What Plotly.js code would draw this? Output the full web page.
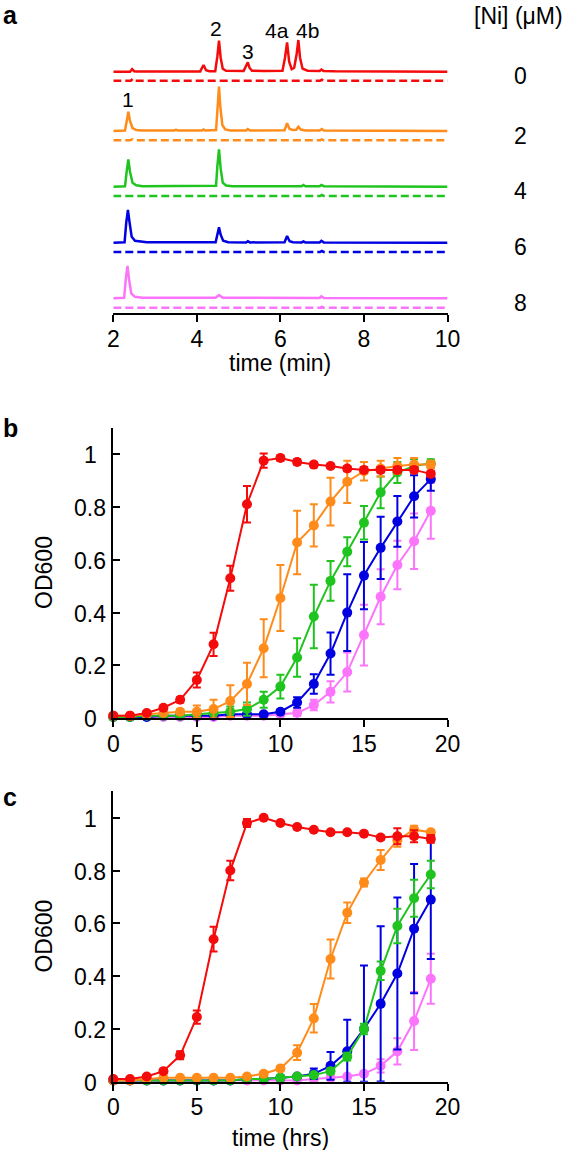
<!DOCTYPE html>
<html>
<head>
<meta charset="utf-8">
<script src="https://cdn.plot.ly/plotly-3.0.1.min.js"></script>
<style>html,body{margin:0;padding:0;background:#fff;}#chart{width:566px;height:1150px;}</style>
</head>
<body>
<div id="chart"></div>
<script>
// ---------------- DATA ----------------
// Panel a: HPLC chromatograms (time in min, signal in arbitrary units)
const concLabels = ['0', '2', '4', '6', '8'];          // [Ni] (µM)
const peakNames = ['1', '2', '3', '4a', '4b'];
const peakTimes = [2.34, 4.46, 5.22, 5.93, 6.65];     // label positions (min)

const ni0_t   = [2.00, 2.40, 2.45, 2.50, 2.55, 4.08, 4.16, 4.22, 4.30, 4.44, 4.49, 4.53, 4.57, 4.62, 4.70, 5.12, 5.18, 5.22, 5.26, 5.32, 5.60, 6.05, 6.11, 6.16, 6.21, 6.27, 6.33, 6.39, 6.43, 6.47, 6.53, 6.65, 6.94, 6.98, 7.03, 7.30, 10.00];
const ni0_s   = [0.0, 0.0, 2.5, 0.5, 0.3, 0.3, 6.7, 1.5, 0.5, 0.5, 15, 31, 14, 3, 1.0, 0.8, 6, 9.3, 4, 1.0, 0.8, 1.0, 14, 29.3, 10, 2.5, 4, 18, 31.7, 14, 3, 1.0, 0.8, 2.2, 0.8, 0.5, 0.0];
const ni0c_t  = [2.00, 2.42, 2.47, 2.52, 6.95, 6.99, 7.04, 10.00];
const ni0c_s  = [0.0, 0.0, 2.0, 0.0, 0.0, 1.0, 0.0, 0.0];

const ni2_t   = [2.00, 2.28, 2.33, 2.36, 2.40, 2.46, 2.55, 2.70, 3.45, 3.50, 3.55, 4.12, 4.16, 4.20, 4.46, 4.50, 4.53, 4.56, 4.61, 4.68, 4.80, 5.18, 5.22, 5.27, 6.10, 6.16, 6.22, 6.30, 6.38, 6.43, 6.49, 6.60, 6.94, 6.99, 7.04, 10.00];
const ni2_s   = [0.0, 0.5, 12, 19.3, 10, 3, 1.0, 0.5, 0.5, 1.2, 0.5, 0.5, 1.5, 0.5, 1.0, 30, 44.3, 25, 6, 1.5, 0.5, 0.5, 2.0, 0.5, 0.8, 7.7, 2.0, 1.0, 1.2, 4.3, 1.5, 0.5, 0.5, 2.0, 0.5, 0.0];
const ni2c_t  = [2.00, 2.40, 2.45, 2.50, 6.95, 6.99, 7.04, 10.00];
const ni2c_s  = [0.0, 0.0, 1.0, 0.0, 0.0, 1.0, 0.0, 0.0];

const ni4_t   = [2.00, 2.28, 2.32, 2.36, 2.40, 2.46, 2.55, 2.70, 3.50, 4.15, 4.46, 4.49, 4.53, 4.57, 4.62, 4.70, 4.85, 6.15, 6.51, 6.55, 6.60, 6.94, 6.98, 7.04, 10.00];
const ni4_s   = [0.0, 0.5, 15, 27.3, 15, 4, 1.5, 0.5, 0.8, 0.5, 1.0, 20, 37.3, 18, 4, 1.2, 0.5, 0.5, 0.5, 1.8, 0.5, 0.5, 1.8, 0.5, 0.0];
const ni4c_t  = [2.00, 6.95, 6.99, 7.04, 10.00];
const ni4c_s  = [0.0, 0.0, 1.0, 0.0, 0.0];

const ni6_t   = [2.00, 2.27, 2.31, 2.35, 2.39, 2.44, 2.52, 2.65, 2.80, 4.45, 4.49, 4.53, 4.57, 4.63, 4.75, 5.18, 5.22, 5.27, 6.10, 6.16, 6.22, 6.30, 6.51, 6.55, 6.60, 6.94, 6.98, 7.04, 10.00];
const ni6_s   = [0.0, 0.5, 20, 32.7, 20, 6, 2.0, 1.0, 0.5, 0.5, 9, 15.3, 8, 2.0, 0.5, 0.3, 1.5, 0.3, 0.5, 6.7, 1.5, 0.5, 0.3, 1.2, 0.3, 0.3, 1.8, 0.3, 0.0];
const ni6c_t  = [2.00, 6.95, 6.99, 7.04, 10.00];
const ni6c_s  = [0.0, 0.0, 1.0, 0.0, 0.0];

const ni8_t   = [2.00, 2.26, 2.30, 2.34, 2.38, 2.43, 2.52, 2.70, 4.45, 4.53, 4.62, 6.94, 6.98, 7.04, 10.00];
const ni8_s   = [0.0, 0.5, 20, 32.3, 18, 5, 1.5, 0.5, 0.5, 3.3, 0.5, 0.3, 2.0, 0.3, 0.0];
const ni8c_t  = [2.00, 6.95, 6.99, 7.04, 10.00];
const ni8c_s  = [0.0, 0.0, 1.0, 0.0, 0.0];

// Panels b & c: growth curves (time in hrs, OD600 mean and error)
const hours = [0,1,2,3,4,5,6,7,8,9,10,11,12,13,14,15,16,17,18,19];

const b_ni0  = [0.01,0.01,0.02,0.04,0.07,0.145,0.28,0.53,0.81,0.975,0.985,0.97,0.96,0.955,0.945,0.94,0.94,0.94,0.94,0.925];
const b_ni0e = [0,0,0,0.005,0.01,0.028,0.044,0.047,0.069,0.027,0.01,0.01,0.01,0.008,0.01,0.01,0.01,0.01,0.01,0.01];
const b_ni2  = [0.01,0.01,0.015,0.02,0.025,0.025,0.035,0.065,0.13,0.265,0.455,0.665,0.73,0.82,0.895,0.935,0.945,0.955,0.96,0.96];
const b_ni2e = [0,0,0,0.005,0.01,0.023,0.035,0.06,0.08,0.11,0.125,0.12,0.08,0.09,0.08,0.035,0.03,0.03,0.025,0.015];
const b_ni4  = [0.005,0.005,0.01,0.01,0.01,0.015,0.02,0.025,0.035,0.07,0.12,0.23,0.385,0.52,0.63,0.74,0.855,0.93,0.955,0.965];
const b_ni4e = [0,0,0,0,0,0,0.005,0.02,0.025,0.03,0.045,0.073,0.12,0.075,0.055,0.063,0.06,0.04,0.025,0.015];
const b_ni6  = [0.005,0.005,0.005,0.01,0.01,0.01,0.01,0.015,0.015,0.015,0.025,0.06,0.13,0.245,0.40,0.54,0.645,0.745,0.84,0.905];
const b_ni6e = [0,0,0,0,0,0,0,0,0,0,0.005,0.02,0.037,0.08,0.145,0.127,0.118,0.096,0.08,0.044];
const b_ni8  = [0.005,0.005,0.005,0.005,0.005,0.005,0.005,0.01,0.01,0.01,0.015,0.02,0.05,0.10,0.175,0.315,0.46,0.58,0.67,0.785];
const b_ni8e = [0,0,0,0,0,0,0,0,0,0,0,0.01,0.02,0.04,0.074,0.115,0.104,0.092,0.105,0.106];

const c_ni0  = [0.01,0.01,0.02,0.04,0.10,0.245,0.54,0.80,0.98,1.0,0.98,0.965,0.955,0.945,0.945,0.94,0.925,0.93,0.93,0.92];
const c_ni0e = [0,0,0,0.005,0.015,0.025,0.047,0.037,0.015,0.005,0.005,0.005,0.005,0.005,0.005,0.005,0.008,0.03,0.023,0.015];
const c_ni2  = [0.005,0.005,0.01,0.015,0.015,0.015,0.015,0.015,0.02,0.03,0.05,0.11,0.24,0.465,0.64,0.755,0.84,0.915,0.955,0.945];
const c_ni2e = [0,0,0,0,0,0,0,0,0,0.005,0.01,0.028,0.054,0.074,0.039,0.015,0.038,0.025,0.015,0.01];
const c_ni4  = [0.005,0.005,0.005,0.005,0.005,0.005,0.005,0.005,0.01,0.01,0.015,0.02,0.025,0.04,0.095,0.20,0.42,0.59,0.695,0.785];
const c_ni4e = [0,0,0,0,0,0,0,0,0,0,0,0,0.005,0.01,0.015,0.02,0.035,0.065,0.07,0.052];
const c_ni6  = [0.005,0.005,0.005,0.005,0.005,0.005,0.005,0.005,0.01,0.01,0.015,0.02,0.03,0.06,0.115,0.20,0.295,0.41,0.58,0.69];
const c_ni6e = [0,0,0,0,0,0,0,0,0,0,0,0.005,0.02,0.053,0.12,0.24,0.294,0.288,0.245,0.225];
const c_ni8  = [0.005,0.005,0.005,0.005,0.005,0.005,0.005,0.005,0.005,0.005,0.005,0.005,0.01,0.015,0.02,0.03,0.06,0.115,0.23,0.39];
const c_ni8e = [0,0,0,0,0,0,0,0,0,0,0,0,0,0,0,0,0.025,0.05,0.11,0.095];

const odTickVals = [0, 0.2, 0.4, 0.6, 0.8, 1];
const odTickText = ['0', '0.2', '0.4', '0.6', '0.8', '1'];
const minTicks = [2, 4, 6, 8, 10];
const hrTicks = [0, 5, 10, 15, 20];

// ---------------- STYLE / LAYOUT ----------------
const W = 566, H = 1150;
const COLORS = ['#f40b0b', '#ff8c1a', '#1fc41f', '#0000e0', '#fb74fb'];
const FONT = 'Liberation Sans, Arial, Helvetica, sans-serif';
const px = v => v / W;            // pixel -> paper x
const py = v => 1 - v / H;        // pixel -> paper y

const X0 = 113.3, X1 = 447.5;     // plot area left/right (px)
const A_BOTTOM = 313.3;           // panel a axis (px)
const B_TOP = 427.6, B_BOTTOM = 718.3;
const C_TOP = 791.4, C_BOTTOM = 1081.7;
// vertical stacking of panel a traces (px above axis): [solid, dashed]
const STACK = [[241.6, 232.6], [182.3, 173.0], [126.6, 117.3], [70.6, 61.3], [15.0, 5.6]];

const chrom = [
  [ni0_t, ni0_s, ni0c_t, ni0c_s],
  [ni2_t, ni2_s, ni2c_t, ni2c_s],
  [ni4_t, ni4_s, ni4c_t, ni4c_s],
  [ni6_t, ni6_s, ni6c_t, ni6c_s],
  [ni8_t, ni8_s, ni8c_t, ni8c_s]
];

const traces = [];
chrom.forEach((c, i) => {
  traces.push({x: c[2], y: c[3].map(v => v + STACK[i][1]), xaxis: 'x', yaxis: 'y', mode: 'lines',
    line: {color: COLORS[i], width: 2.5, dash: '8px,4px'}, hoverinfo: 'skip', showlegend: false});
  traces.push({x: c[0], y: c[1].map(v => v + STACK[i][0]), xaxis: 'x', yaxis: 'y', mode: 'lines',
    line: {color: COLORS[i], width: 2.5}, hoverinfo: 'skip', showlegend: false});
});

function growth(vals, errs, color, xa, ya) {
  return {x: hours, y: vals, xaxis: xa, yaxis: ya, mode: 'lines+markers', cliponaxis: false,
    line: {color: color, width: 2}, marker: {color: color, size: 10, symbol: 'circle'},
    error_y: {type: 'data', array: errs, arrayminus: errs.map((e, k) => Math.min(e, vals[k])),
      symmetric: false, color: color, thickness: 2, width: 4},
    showlegend: false};
}
const bSets = [[b_ni8, b_ni8e, 4], [b_ni6, b_ni6e, 3], [b_ni4, b_ni4e, 2], [b_ni2, b_ni2e, 1], [b_ni0, b_ni0e, 0]];
const cSets = [[c_ni8, c_ni8e, 4], [c_ni6, c_ni6e, 3], [c_ni4, c_ni4e, 2], [c_ni2, c_ni2e, 1], [c_ni0, c_ni0e, 0]];
bSets.forEach(s => traces.push(growth(s[0], s[1], COLORS[s[2]], 'x2', 'y2')));
cSets.forEach(s => traces.push(growth(s[0], s[1], COLORS[s[2]], 'x3', 'y3')));

const xBase = {domain: [px(X0), px(X1)], showline: true, linewidth: 2, linecolor: '#000', ticks: 'outside',
  ticklen: 7, tickwidth: 2, tickcolor: '#000', showgrid: false, zeroline: false, ticklabelstandoff: -3,
  tickfont: {family: FONT, size: 23, color: '#000'}, fixedrange: true};
const yGrowth = {range: [0, 1.1], showline: true, linewidth: 2, linecolor: '#000', ticks: 'inside',
  ticklen: 7, tickwidth: 2, tickcolor: '#000', tickvals: odTickVals, showticklabels: false,
  showgrid: false, zeroline: false, fixedrange: true};

const ann = [];
const txt = (text, x, y, size, extra) => Object.assign({text: text, x: x, y: y, xref: 'paper', yref: 'paper',
  showarrow: false, xanchor: 'center', yanchor: 'middle', font: {family: FONT, size: size, color: '#000'}}, extra || {});

ann.push(txt('<b>a</b>', px(1), py(15.5), 25, {xanchor: 'left'}));
ann.push(txt('<b>b</b>', px(1), py(428), 25, {xanchor: 'left'}));
ann.push(txt('<b>c</b>', px(1), py(796.5), 25, {xanchor: 'left'}));
ann.push(txt('[Ni] (μM)', px(518), py(16), 23));
concLabels.forEach((lab, i) => ann.push(txt(lab, px(520), (STACK[i][0] + STACK[i][1]) / 2, 23, {yref: 'y'})));
const peakY = [100, 28.3, 51.7, 30.7, 30.7];
peakNames.forEach((n, i) => ann.push(txt(n, peakTimes[i], py(peakY[i]), 21, {xref: 'x'})));
ann.push(txt('time (min)', px((X0 + X1) / 2), py(362.5), 23));
ann.push(txt('time (hrs)', px((X0 + X1) / 2), py(1137.5), 23));
ann.push(txt('OD600', px(44), py((B_TOP + B_BOTTOM) / 2), 23, {textangle: -90}));
ann.push(txt('OD600', px(44), py((C_TOP + C_BOTTOM) / 2), 23, {textangle: -90}));
odTickVals.forEach((v, i) => {
  ann.push(txt(odTickText[i], px(90), v, 23, {yref: 'y2', yshift: -1}));
  ann.push(txt(odTickText[i], px(90), v, 23, {yref: 'y3', yshift: -1}));
});

const layout = {
  width: W, height: H, autosize: false,
  margin: {l: 0, r: 0, t: 0, b: 0, pad: 0},
  paper_bgcolor: '#fff', plot_bgcolor: 'rgba(0,0,0,0)',
  font: {family: FONT, color: '#000'},
  showlegend: false,
  xaxis: Object.assign({}, xBase, {range: [2, 10], tickvals: minTicks, anchor: 'y'}),
  yaxis: {domain: [py(A_BOTTOM), 1], range: [0, A_BOTTOM], visible: false, fixedrange: true},
  xaxis2: Object.assign({}, xBase, {range: [0, 20], tickvals: hrTicks, anchor: 'y2'}),
  yaxis2: Object.assign({}, yGrowth, {domain: [py(B_BOTTOM), py(B_TOP)], anchor: 'x2'}),
  xaxis3: Object.assign({}, xBase, {range: [0, 20], tickvals: hrTicks, anchor: 'y3'}),
  yaxis3: Object.assign({}, yGrowth, {domain: [py(C_BOTTOM), py(C_TOP)], anchor: 'x3'}),
  annotations: ann
};

Plotly.newPlot('chart', traces, layout, {staticPlot: true, displayModeBar: false});
</script>
</body>
</html>
